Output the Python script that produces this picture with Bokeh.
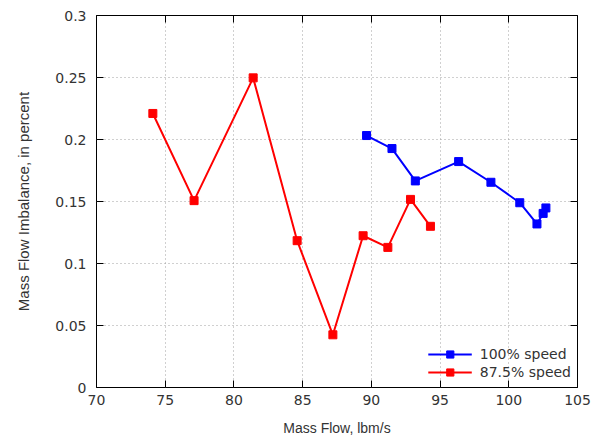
from bokeh.plotting import figure
from bokeh.models import LinearAxis, Range1d, FixedTicker, Legend, LegendItem, ColumnDataSource
from bokeh.embed import file_html
from bokeh.resources import INLINE

# 100% speed
x100 = [89.65, 91.5, 93.2, 96.35, 98.7, 100.8, 102.05, 102.5, 102.7]
y100 = [0.2032, 0.1927, 0.1666, 0.1822, 0.1655, 0.149, 0.1319, 0.1404, 0.1448]
# 87.5% speed
x875 = [74.1, 77.1, 81.4, 84.6, 87.2, 89.4, 91.2, 92.85, 94.3]
y875 = [0.221, 0.1507, 0.2497, 0.1184, 0.0425, 0.1224, 0.113, 0.1517, 0.130]

xticks = [70, 75, 80, 85, 90, 95, 100, 105]
yticks = [0, 0.05, 0.1, 0.15, 0.2, 0.25, 0.3]
ytick_labels = {0: "0", 0.05: "0.05", 0.1: "0.1", 0.15: "0.15", 0.2: "0.2", 0.25: "0.25", 0.3: "0.3"}

p = figure(width=593, height=440, output_backend="svg", toolbar_location=None,
           x_range=Range1d(70, 105), y_range=Range1d(0, 0.3),
           min_border_left=96, min_border_right=16, min_border_top=15, min_border_bottom=53)

p.outline_line_color = "black"
p.outline_line_width = 1
p.background_fill_color = "white"
p.border_fill_color = "white"

for g in (p.xgrid[0], p.ygrid[0]):
    g.grid_line_color = "#a0a0a0"
    g.grid_line_dash = "1 3"
    g.grid_line_width = 1

tick_font = "DejaVu Sans"
label_font = "Liberation Sans"

xa = p.xaxis[0]
xa.ticker = FixedTicker(ticks=xticks)
xa.axis_label = "Mass Flow, lbm/s"
ya = p.yaxis[0]
ya.ticker = FixedTicker(ticks=yticks)
ya.major_label_overrides = ytick_labels
ya.axis_label = "Mass Flow Imbalance, in percent"

for ax in (xa, ya):
    ax.axis_line_color = None
    ax.major_tick_in = 7
    ax.major_tick_out = 0
    ax.major_tick_line_color = "black"
    ax.minor_tick_line_color = None
    ax.major_label_text_font = tick_font
    ax.major_label_text_font_size = "14px"
    ax.major_label_text_color = "#333333"
    ax.axis_label_text_font = label_font
    ax.axis_label_text_font_size = "14px"
    ax.axis_label_text_font_style = "normal"
    ax.axis_label_text_color = "#333333"
ya.axis_label_text_font_size = "15px"
xa.major_label_standoff = 7
xa.axis_label_standoff = 12
ya.major_label_standoff = 10
ya.axis_label_standoff = 20

# mirrored ticks on top and right
top = LinearAxis(ticker=FixedTicker(ticks=xticks), major_label_text_color=None,
                 major_label_text_font_size="1px",
                 axis_line_color=None, major_tick_in=7, major_tick_out=0,
                 minor_tick_line_color=None, major_label_standoff=0)
right = LinearAxis(ticker=FixedTicker(ticks=yticks), major_label_text_color=None,
                   major_label_text_font_size="1px",
                   axis_line_color=None, major_tick_in=7, major_tick_out=0,
                   minor_tick_line_color=None, major_label_standoff=0)
p.add_layout(top, "above")
p.add_layout(right, "right")

s100 = ColumnDataSource(dict(x=x100, y=y100))
s875 = ColumnDataSource(dict(x=x875, y=y875))
l1 = p.line("x", "y", source=s100, line_color="#0000ff", line_width=2)
m1 = p.scatter("x", "y", source=s100, marker="square", size=8, fill_color="#0000ff", line_color="#0000ff")
l2 = p.line("x", "y", source=s875, line_color="#ff0000", line_width=2)
m2 = p.scatter("x", "y", source=s875, marker="square", size=8, fill_color="#ff0000", line_color="#ff0000")

legend = Legend(items=[LegendItem(label="100% speed", renderers=[l1, m1]),
                       LegendItem(label="87.5% speed", renderers=[l2, m2])],
                location="bottom_right", background_fill_alpha=0, border_line_color=None,
                label_text_font=tick_font, label_text_font_size="14px", label_text_color="#333333",
                glyph_width=44, glyph_height=18, label_height=18, spacing=0, padding=4, margin=6,
                label_standoff=8)
p.add_layout(legend)

open("out.html", "w").write(file_html(p, INLINE))
